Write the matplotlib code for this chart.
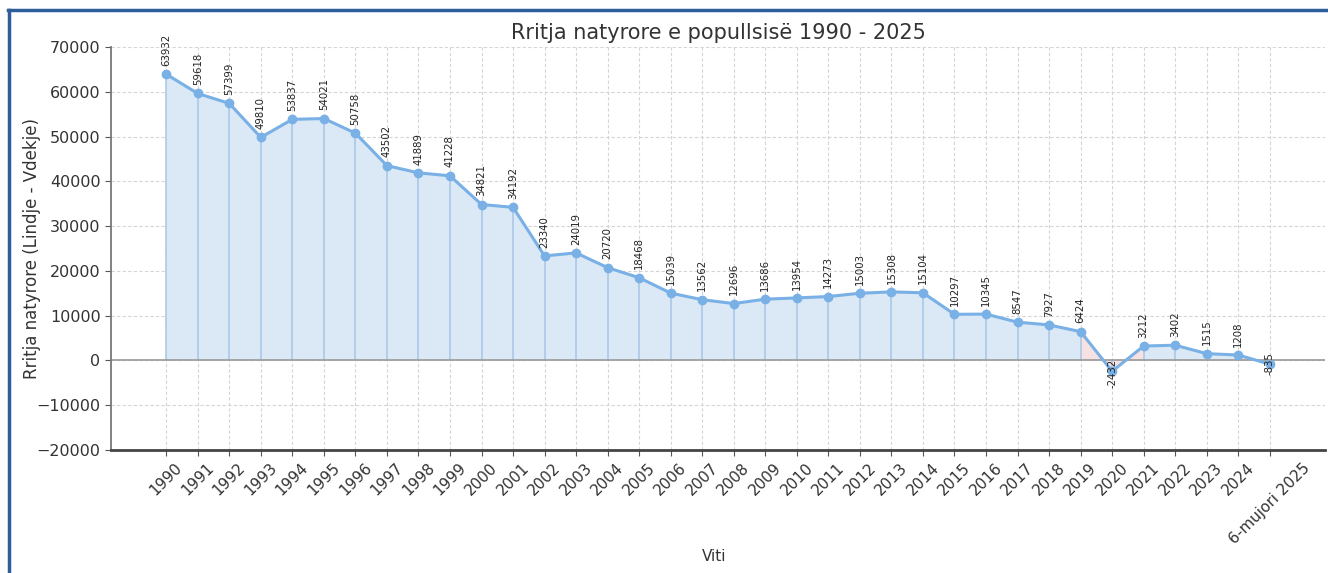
import numpy as np
import matplotlib
matplotlib.use("Agg")
import matplotlib.pyplot as plt
from matplotlib.lines import Line2D

# data
labels = ["1990", "1991", "1992", "1993", "1994", "1995", "1996", "1997", "1998", "1999",
          "2000", "2001", "2002", "2003", "2004", "2005", "2006", "2007", "2008", "2009",
          "2010", "2011", "2012", "2013", "2014", "2015", "2016", "2017", "2018", "2019",
          "2020", "2021", "2022", "2023", "2024", "6-mujori 2025"]
values = [63932, 59618, 57399, 49810, 53837, 54021, 50758, 43502, 41889, 41228,
          34821, 34192, 23340, 24019, 20720, 18468, 15039, 13562, 12696, 13686,
          13954, 14273, 15003, 15308, 15104, 10297, 10345, 8547, 7927, 6424,
          -2432, 3212, 3402, 1515, 1208, -835]
yticks = [-20000, -10000, 0, 10000, 20000, 30000, 40000, 50000, 60000, 70000]

x = np.arange(len(values))
y = np.array(values)

line_col = "#79b0e6"
fill_col = "#dbe8f5"
neg_col = "#f6e2e2"

fig = plt.figure(figsize=(13.28, 5.73), dpi=100)
ax = fig.add_axes([0.0836, 0.2147, 0.9141, 0.7033])

# fills: blue where positive, pink around the negative points
neg = y < 0
near = neg.copy()
near[1:] |= neg[:-1]
near[:-1] |= neg[1:]
ax.fill_between(x, y, 0, where=near, color=neg_col, lw=0, zorder=1)
ax.fill_between(x, y, 0, where=~neg, color=fill_col, lw=0, zorder=1)
ax.vlines(x, 0, y, color="#9fc1e6", lw=1.1, alpha=0.9, zorder=2)

ax.axhline(0, color="#999999", lw=1.2, zorder=2)
ax.plot(x, y, color=line_col, lw=2.2, marker="o", ms=6, zorder=3)

for xi, yi in zip(x, y):
    if yi >= 0:
        ax.annotate(str(yi), (xi, yi), xytext=(0, 6), textcoords="offset points",
                    ha="center", va="bottom", rotation=90, fontsize=7.3, color="#222222")
    else:
        ax.annotate(str(yi), (xi, yi), xytext=(0, 9), textcoords="offset points",
                    ha="center", va="top", rotation=90, fontsize=7.3, color="#222222")

ax.set_xticks(x)
ax.set_xticklabels(labels, rotation=45, ha="center", fontsize=11, color="#333333")
ax.set_yticks(yticks)
ax.tick_params(axis="y", labelsize=11.5, colors="#333333")
ax.tick_params(axis="both", color="#555555", length=4)
ax.set_ylim(-20000, 70000)
ax.margins(x=0.05)

ax.grid(True, linestyle=(0, (3, 2)), color="#d5d5d5", lw=0.8)
ax.set_axisbelow(True)
for s in ["top", "right"]:
    ax.spines[s].set_visible(False)
ax.spines["left"].set_color("#777777")
ax.spines["left"].set_linewidth(1.3)
ax.spines["bottom"].set_color("#444444")
ax.spines["bottom"].set_linewidth(2)

ax.set_title("Rritja natyrore e popullsisë 1990 - 2025", fontsize=15, color="#333333", pad=6)
ax.set_ylabel("Rritja natyrore (Lindje - Vdekje)", fontsize=12, color="#333333")
ax.set_xlabel("Viti", fontsize=11, color="#333333", labelpad=4)
ax.yaxis.set_label_coords(-0.058, 0.5)
ax.xaxis.set_label_coords(0.497, -0.245)

# blue frame of the screenshot
frame = "#2f5f9b"
fig.add_artist(Line2D([0.006, 1.0], [1 - 10 / 573, 1 - 10 / 573], color=frame, lw=2.5,
                      transform=fig.transFigure))
fig.add_artist(Line2D([0.0068, 0.0068], [0.0, 1 - 10 / 573], color=frame, lw=2.5,
                      transform=fig.transFigure))

fig.savefig("out.png", dpi=100)
